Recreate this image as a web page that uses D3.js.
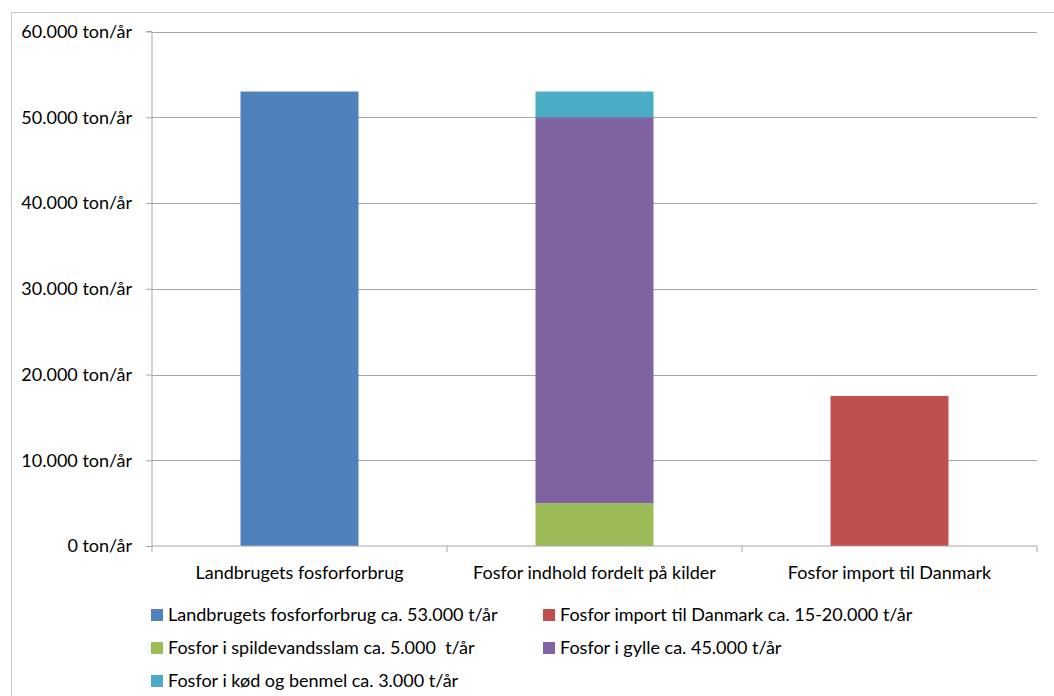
<!DOCTYPE html>
<html><head><meta charset="utf-8">
<script src="https://cdn.jsdelivr.net/npm/d3@7"></script>
<style>body{margin:0;background:#fff;} text{font-family:Lato, "Open Sans", sans-serif; fill:#000; white-space:pre;}</style>
</head><body>
<svg id="c" width="1054" height="696"></svg>
<script>
const categories = ["Landbrugets fosforforbrug", "Fosfor indhold fordelt på kilder", "Fosfor import til Danmark"];
const seriesNames = ["Landbrugets fosforforbrug ca. 53.000 t/år", "Fosfor import til Danmark ca. 15-20.000 t/år", "Fosfor i spildevandsslam ca. 5.000  t/år", "Fosfor i gylle ca. 45.000 t/år", "Fosfor i kød og benmel ca. 3.000 t/år"];
const landbrug = [53000, 0, 0];
const importDK = [0, 0, 17500];
const spildevand = [0, 5000, 0];
const gylle = [0, 45000, 0];
const koed = [0, 3000, 0];
const yTicks = [0, 10000, 20000, 30000, 40000, 50000, 60000];
const yTickLabels = ["0 ton/år", "10.000 ton/år", "20.000 ton/år", "30.000 ton/år", "40.000 ton/år", "50.000 ton/år", "60.000 ton/år"];
const colors = ["#4F81BD", "#C0504D", "#9BBB59", "#8064A2", "#4BACC6"];

const svg = d3.select("#c");
svg.append("rect").attr("x", 11.5).attr("y", 12.5).attr("width", 1200).attr("height", 900)
  .attr("fill", "none").attr("stroke", "#c8c8c8");

const L = 152, R = 1037, T = 31.5, B = 546;
const x = d3.scaleBand().domain(categories).range([L, R]).paddingInner(0.6).paddingOuter(0.3);
const y = d3.scaleLinear().domain([0, 60000]).range([B, T]);

// gridlines
svg.append("g").selectAll("line").data(yTicks.slice(1)).join("line")
  .attr("x1", L).attr("x2", R).attr("y1", d => Math.round(y(d)) + 0.5).attr("y2", d => Math.round(y(d)) + 0.5)
  .attr("stroke", "#a6a6a6").attr("stroke-width", 1.2);

// stacked data
const series = [landbrug, importDK, spildevand, gylle, koed];
const rows = categories.map((c, i) => {
  const o = {cat: c};
  series.forEach((s, j) => o["s" + j] = s[i]);
  return o;
});
const stack = d3.stack().keys(series.map((s, j) => "s" + j));
const stacked = stack(rows);
svg.append("g").selectAll("g").data(stacked).join("g").attr("fill", (d, i) => colors[i])
  .selectAll("rect").data(d => d.filter(p => p[1] - p[0] > 0)).join("rect")
  .attr("x", d => x(d.data.cat)).attr("width", x.bandwidth())
  .attr("y", d => y(d[1])).attr("height", d => y(d[0]) - y(d[1]));

// y axis
const yAxis = d3.axisLeft(y).tickValues(yTicks).tickFormat((d, i) => yTickLabels[i]).tickSize(6).tickPadding(14);
const gy = svg.append("g").attr("transform", `translate(${L},0)`).call(yAxis);
gy.select(".domain").attr("stroke", "#a6a6a6").attr("d", `M-6,${T}H0V${B}`);
gy.selectAll(".tick line").attr("stroke", "#a6a6a6");
gy.selectAll(".tick text").style("font-size", "18px").attr("fill", "#000");

// x axis
const xAxis = d3.axisBottom(x).tickSize(0).tickPadding(20);
const gx = svg.append("g").attr("transform", `translate(0,${B})`).call(xAxis);
gx.select(".domain").attr("stroke", "#a6a6a6").attr("d", `M${L},0H${R}`);
gx.selectAll(".tick text").style("font-size", "18px").attr("fill", "#000");
const step = x.step();
svg.append("g").selectAll("line").data(d3.range(categories.length + 1)).join("line")
  .attr("x1", i => L + i * step).attr("x2", i => L + i * step)
  .attr("y1", B).attr("y2", B + 6).attr("stroke", "#a6a6a6");

// legend
const legendPos = [[151, 615], [543, 615], [151, 648], [543, 648], [151, 681]];
const lg = svg.append("g").selectAll("g").data(seriesNames).join("g")
  .attr("transform", (d, i) => `translate(${legendPos[i][0]},${legendPos[i][1]})`);
lg.append("rect").attr("x", 0).attr("y", -6).attr("width", 12).attr("height", 12).attr("fill", (d, i) => colors[i]);
lg.append("text").attr("x", 17).attr("y", 0).attr("dy", "0.35em").style("font-size", "18px").text(d => d);
</script>
</body></html>
